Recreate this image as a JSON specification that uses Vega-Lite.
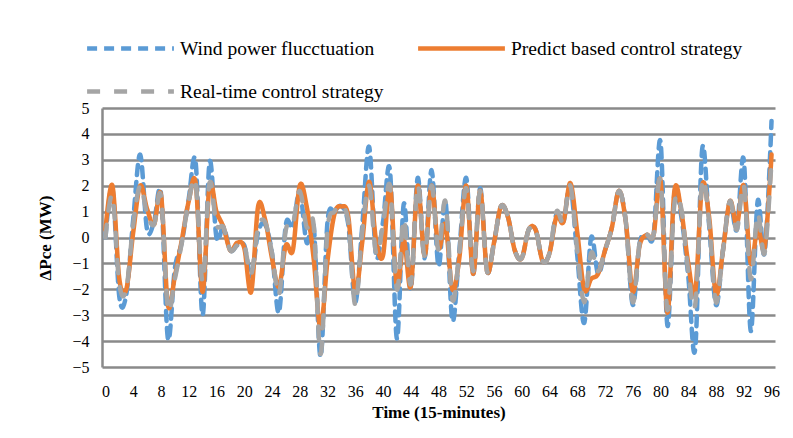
{
  "$schema": "https://vega.github.io/schema/vega-lite/v6.json",
  "width": 673,
  "height": 259,
  "autosize": "none",
  "padding": {"left": 102, "top": 108, "right": 18, "bottom": 71},
  "background": "white",
  "config": {
    "font": "Liberation Serif",
    "view": {"stroke": null},
    "axis": {
      "labelFont": "Liberation Serif",
      "titleFont": "Liberation Serif",
      "labelColor": "#000000",
      "titleColor": "#000000",
      "labelFontSize": 16,
      "titleFontSize": 17,
      "titleFontWeight": "bold",
      "ticks": false
    },
    "legend": {
      "labelFont": "Liberation Serif",
      "labelFontSize": 19.5,
      "labelColor": "#000000",
      "labelLimit": 0
    }
  },
  "data": {
    "values": [
      {"t": 0, "wind": 0.0, "pred": 0.3, "real": 0.0},
      {"t": 1, "wind": 1.9, "pred": 2.0, "real": 1.6},
      {"t": 2, "wind": -2.3, "pred": -1.6, "real": -1.8},
      {"t": 3, "wind": -2.2, "pred": -2.0, "real": -2.0},
      {"t": 4, "wind": 0.7, "pred": 0.2, "real": 0.5},
      {"t": 5, "wind": 3.2, "pred": 2.0, "real": 2.0},
      {"t": 6, "wind": 0.3, "pred": 1.1, "real": 0.9},
      {"t": 7, "wind": 0.6, "pred": 0.5, "real": 0.5},
      {"t": 8, "wind": 1.7, "pred": 1.65, "real": 1.6},
      {"t": 9, "wind": -3.9, "pred": -2.6, "real": -2.7},
      {"t": 10, "wind": -1.2, "pred": -1.5, "real": -1.6},
      {"t": 11, "wind": -0.2, "pred": -0.1, "real": -0.2},
      {"t": 12, "wind": 1.5, "pred": 1.4, "real": 1.4},
      {"t": 13, "wind": 2.9, "pred": 2.1, "real": 2.1},
      {"t": 14, "wind": -3.0, "pred": -2.1, "real": -1.7},
      {"t": 15, "wind": 2.9, "pred": 2.0, "real": 2.1},
      {"t": 16, "wind": 0.0, "pred": 1.0, "real": 0.5},
      {"t": 17, "wind": 0.4, "pred": 0.4, "real": 0.4},
      {"t": 18, "wind": -0.5, "pred": -0.5, "real": -0.5},
      {"t": 19, "wind": -0.3, "pred": -0.2, "real": -0.3},
      {"t": 20, "wind": -0.3, "pred": -0.4, "real": -0.3},
      {"t": 21, "wind": -1.5, "pred": -2.1, "real": -1.4},
      {"t": 22, "wind": 0.2, "pred": 1.2, "real": 0.4},
      {"t": 23, "wind": 0.5, "pred": 0.7, "real": 0.6},
      {"t": 24, "wind": -0.6, "pred": -0.8, "real": -0.6},
      {"t": 25, "wind": -2.9, "pred": -1.9, "real": -2.2},
      {"t": 26, "wind": 0.5, "pred": -0.3, "real": 0.3},
      {"t": 27, "wind": 0.4, "pred": -0.5, "real": 0.5},
      {"t": 28, "wind": 1.8, "pred": 2.0, "real": 1.8},
      {"t": 29, "wind": -0.2, "pred": 1.2, "real": 0.4},
      {"t": 30, "wind": 0.5, "pred": -0.8, "real": 0.5},
      {"t": 31, "wind": -4.6, "pred": -3.5, "real": -4.5},
      {"t": 32, "wind": 0.6, "pred": -0.9, "real": 0.3},
      {"t": 33, "wind": 1.0, "pred": 0.9, "real": 1.0},
      {"t": 34, "wind": 1.2, "pred": 1.2, "real": 1.2},
      {"t": 35, "wind": 0.5, "pred": 0.8, "real": 0.6},
      {"t": 36, "wind": -2.5, "pred": -2.1, "real": -2.6},
      {"t": 37, "wind": 0.4, "pred": -0.2, "real": 0.2},
      {"t": 38, "wind": 3.5, "pred": 2.15, "real": 2.0},
      {"t": 39, "wind": -0.7, "pred": -0.1, "real": -0.6},
      {"t": 40, "wind": 0.6, "pred": -0.7, "real": 0.5},
      {"t": 41, "wind": 2.6, "pred": 2.0, "real": 2.0},
      {"t": 42, "wind": -3.9, "pred": -1.9, "real": -2.0},
      {"t": 43, "wind": 1.3, "pred": -0.1, "real": 0.7},
      {"t": 44, "wind": -2.0, "pred": -1.9, "real": -1.8},
      {"t": 45, "wind": 2.3, "pred": 2.0, "real": 2.0},
      {"t": 46, "wind": -0.8, "pred": -0.7, "real": -0.7},
      {"t": 47, "wind": 2.6, "pred": 2.0, "real": 2.0},
      {"t": 48, "wind": -1.1, "pred": -0.4, "real": -0.5},
      {"t": 49, "wind": 1.4, "pred": 0.5, "real": 1.4},
      {"t": 50, "wind": -3.2, "pred": -2.0, "real": -2.4},
      {"t": 51, "wind": -0.5, "pred": -0.8, "real": -0.6},
      {"t": 52, "wind": 2.3, "pred": 2.0, "real": 1.9},
      {"t": 53, "wind": -1.4, "pred": -1.4, "real": -1.3},
      {"t": 54, "wind": 1.9, "pred": 1.8, "real": 1.8},
      {"t": 55, "wind": -1.3, "pred": -1.3, "real": -1.3},
      {"t": 56, "wind": -0.2, "pred": -0.2, "real": -0.2},
      {"t": 57, "wind": 1.2, "pred": 1.2, "real": 1.2},
      {"t": 58, "wind": 0.8, "pred": 0.8, "real": 0.8},
      {"t": 59, "wind": -0.5, "pred": -0.5, "real": -0.5},
      {"t": 60, "wind": -0.8, "pred": -0.8, "real": -0.8},
      {"t": 61, "wind": 0.3, "pred": 0.3, "real": 0.3},
      {"t": 62, "wind": 0.3, "pred": 0.3, "real": 0.3},
      {"t": 63, "wind": -0.9, "pred": -0.9, "real": -0.9},
      {"t": 64, "wind": -0.6, "pred": -0.6, "real": -0.6},
      {"t": 65, "wind": 0.9, "pred": 0.8, "real": 1.0},
      {"t": 66, "wind": 0.6, "pred": 0.6, "real": 0.6},
      {"t": 67, "wind": 2.0, "pred": 2.1, "real": 2.0},
      {"t": 68, "wind": -0.7, "pred": 0.2, "real": -0.5},
      {"t": 69, "wind": -3.3, "pred": -2.0, "real": -2.5},
      {"t": 70, "wind": 0.0, "pred": -1.6, "real": -0.6},
      {"t": 71, "wind": -1.4, "pred": -1.4, "real": -1.3},
      {"t": 72, "wind": -0.5, "pred": -0.5, "real": -0.5},
      {"t": 73, "wind": 0.4, "pred": 0.4, "real": 0.4},
      {"t": 74, "wind": 1.8, "pred": 1.8, "real": 1.8},
      {"t": 75, "wind": 0.6, "pred": 0.6, "real": 0.6},
      {"t": 76, "wind": -2.6, "pred": -2.1, "real": -2.5},
      {"t": 77, "wind": -0.2, "pred": -0.3, "real": -0.2},
      {"t": 78, "wind": 0.1, "pred": 0.1, "real": 0.1},
      {"t": 79, "wind": 0.1, "pred": 0.1, "real": 0.1},
      {"t": 80, "wind": 3.7, "pred": 2.2, "real": 2.2},
      {"t": 81, "wind": -3.4, "pred": -2.9, "real": -2.8},
      {"t": 82, "wind": 1.7, "pred": 1.8, "real": 1.3},
      {"t": 83, "wind": 0.8, "pred": 1.0, "real": 1.1},
      {"t": 84, "wind": -1.5, "pred": -1.0, "real": -1.3},
      {"t": 85, "wind": -4.3, "pred": -2.1, "real": -2.6},
      {"t": 86, "wind": 3.4, "pred": 2.0, "real": 2.1},
      {"t": 87, "wind": 0.5, "pred": 0.8, "real": 0.6},
      {"t": 88, "wind": -2.6, "pred": -2.2, "real": -2.5},
      {"t": 89, "wind": -0.5, "pred": -0.5, "real": -0.5},
      {"t": 90, "wind": 1.4, "pred": 1.4, "real": 1.4},
      {"t": 91, "wind": 0.3, "pred": 0.5, "real": 0.3},
      {"t": 92, "wind": 3.0, "pred": 2.0, "real": 2.0},
      {"t": 93, "wind": -3.6, "pred": -1.0, "real": -1.6},
      {"t": 94, "wind": 1.4, "pred": 0.4, "real": 0.9},
      {"t": 95, "wind": -0.6, "pred": -0.4, "real": -0.6},
      {"t": 96, "wind": 4.5, "pred": 3.2, "real": 3.0}
    ]
  },
  "transform": [
    {"fold": ["wind", "pred", "real"], "as": ["series", "value"]}
  ],
  "mark": {
    "type": "line",
    "interpolate": "cardinal",
    "strokeWidth": 4.5,
    "strokeCap": "round",
    "strokeJoin": "round"
  },
  "encoding": {
    "x": {
      "field": "t",
      "type": "quantitative",
      "scale": {"domain": [-0.5, 96.5], "nice": false, "zero": false},
      "axis": {
        "title": "Time (15-minutes)",
        "values": [0, 4, 8, 12, 16, 20, 24, 28, 32, 36, 40, 44, 48, 52, 56, 60, 64, 68, 72, 76, 80, 84, 88, 92, 96],
        "grid": false,
        "domain": false,
        "labelPadding": 16,
        "titlePadding": 5,
        "labelFlush": false
      }
    },
    "y": {
      "field": "value",
      "type": "quantitative",
      "scale": {"domain": [-5, 5], "nice": false},
      "axis": {
        "title": "ΔPce (MW)",
        "values": [-5, -4, -3, -2, -1, 0, 1, 2, 3, 4, 5],
        "grid": true,
        "gridColor": "#8a8a8a",
        "gridWidth": 2.5,
        "gridOpacity": 1,
        "domain": true,
        "domainColor": "#8a8a8a",
        "domainWidth": 2.5,
        "labelPadding": 13,
        "titlePadding": 17
      }
    },
    "color": {
      "field": "series",
      "type": "nominal",
      "scale": {"domain": ["wind", "pred", "real"], "range": ["#5B9BD5", "#ED7D31", "#A5A5A5"]},
      "legend": {
        "title": null,
        "orient": "none",
        "legendX": -5,
        "legendY": -93,
        "direction": "horizontal",
        "columns": 2,
        "columnPadding": 25,
        "rowPadding": 0,
        "symbolType": "M-1.4,0H1.4",
        "symbolSize": 3844,
        "symbolStrokeWidth": 4.5,
        "labelOffset": 16,
        "labelLimit": 0,
        "labelExpr": "datum.label == 'wind' ? 'Wind power flucctuation' : datum.label == 'pred' ? 'Predict based control strategy' : 'Real-time control strategy'"
      }
    },
    "strokeDash": {
      "field": "series",
      "type": "nominal",
      "scale": {"domain": ["wind", "pred", "real"], "range": [[10, 7], [1, 0], [13, 14]]},
      "legend": {
        "title": null,
        "orient": "none",
        "legendX": -5,
        "legendY": -93,
        "direction": "horizontal",
        "columns": 2,
        "columnPadding": 25,
        "rowPadding": 0,
        "symbolType": "M-1.4,0H1.4",
        "symbolSize": 3844,
        "symbolStrokeWidth": 4.5,
        "labelOffset": 16,
        "labelLimit": 0,
        "labelExpr": "datum.label == 'wind' ? 'Wind power flucctuation' : datum.label == 'pred' ? 'Predict based control strategy' : 'Real-time control strategy'"
      }
    }
  }
}
